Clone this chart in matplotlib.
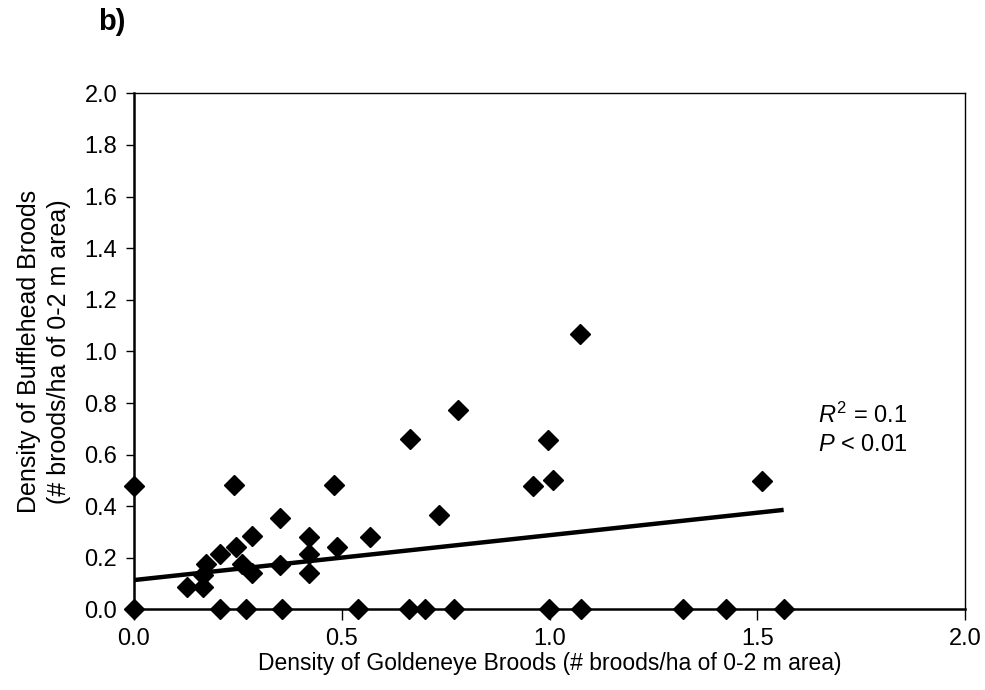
import numpy as np
import matplotlib.pyplot as plt

plt.rcParams['font.family'] = ['Liberation Sans', 'DejaVu Sans']
plt.rcParams['mathtext.fontset'] = 'custom'
plt.rcParams['mathtext.rm'] = 'Liberation Sans'
plt.rcParams['mathtext.it'] = 'Liberation Sans:italic'

# brood densities per wetland (goldeneye on x, bufflehead on y)
goldeneye = [0.0, 0.128, 0.167, 0.167, 0.173, 0.207, 0.241, 0.245, 0.260, 0.285,
             0.285, 0.351, 0.351, 0.422, 0.422, 0.422, 0.482, 0.488, 0.568, 0.664,
             0.735, 0.779, 0.961, 0.997, 1.009, 1.073, 1.512,
             0.0, 0.207, 0.270, 0.355, 0.539, 0.662, 0.699, 0.771, 0.999, 1.076,
             1.320, 1.425, 1.563]
bufflehead = [0.48, 0.086, 0.086, 0.134, 0.176, 0.214, 0.483, 0.243, 0.175, 0.140,
              0.285, 0.353, 0.172, 0.282, 0.214, 0.140, 0.483, 0.243, 0.282, 0.660,
              0.365, 0.773, 0.480, 0.657, 0.502, 1.067, 0.499,
              0.0, 0.0, 0.0, 0.0, 0.0, 0.0, 0.0, 0.0, 0.0, 0.0,
              0.0, 0.0, 0.0]

# fitted regression line
fit_intercept = 0.114
fit_slope = 0.174

x_ticks = [0.0, 0.5, 1.0, 1.5, 2.0]
y_ticks = [0.0, 0.2, 0.4, 0.6, 0.8, 1.0, 1.2, 1.4, 1.6, 1.8, 2.0]

fig = plt.figure(figsize=(9.85, 6.9), dpi=100)
ax = fig.add_axes([0.136, 0.1167, 0.844, 0.748])

xs = np.array([0.0, max(goldeneye)])
ax.plot(xs, fit_intercept + fit_slope * xs, color='black', lw=3.2, solid_capstyle='butt', zorder=2)
ax.plot(goldeneye, bufflehead, linestyle='none', marker='D', markersize=10,
        color='black', clip_on=False, zorder=3)

ax.set_xlim(0, 2.0)
ax.set_ylim(0, 2.0)
ax.set_xticks(x_ticks)
ax.set_yticks(y_ticks)
ax.set_xticklabels([f"{t:.1f}" for t in x_ticks], fontsize=17)
ax.set_yticklabels([f"{t:.1f}" for t in y_ticks], fontsize=17)
ax.tick_params(axis='x', direction='out', length=8, width=1, pad=5)
ax.tick_params(axis='y', direction='out', length=6, width=1, pad=6)

for side in ['left', 'bottom']:
    ax.spines[side].set_linewidth(1.8)
for side in ['top', 'right']:
    ax.spines[side].set_linewidth(1.0)

ax.set_xlabel("Density of Goldeneye Broods (# broods/ha of 0-2 m area)", fontsize=16.5, labelpad=2)
ax.set_ylabel("Density of Bufflehead Broods\n(# broods/ha of 0-2 m area)", fontsize=18,
              labelpad=10, linespacing=1.3)

ax.text(1.645, 0.723, r"$R^2$ = 0.1", fontsize=17)
ax.text(1.645, 0.615, r"$P$ < 0.01", fontsize=17)

fig.text(0.1, 0.968, "b)", fontsize=21, fontweight='bold', va='center')

fig.savefig("out.png", dpi=100, facecolor='white')
